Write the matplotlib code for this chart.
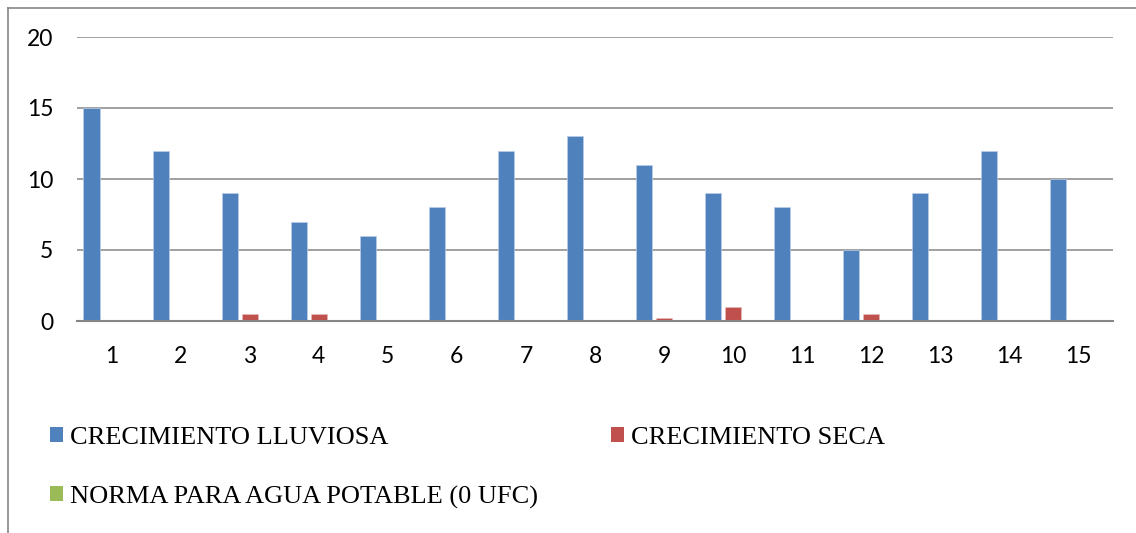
import matplotlib
matplotlib.use("Agg")
import matplotlib.pyplot as plt
import numpy as np
from matplotlib.patches import Patch
from matplotlib.lines import Line2D

# Datos
muestras = list(range(1, 16))
lluviosa = [15, 12, 9, 7, 6, 8, 12, 13, 11, 9, 8, 5, 9, 12, 10]
seca = [0, 0, 0.5, 0.5, 0, 0, 0, 0, 0.2, 1, 0, 0.5, 0, 0, 0]
norma = [0] * 15
etiquetas = ["CRECIMIENTO LLUVIOSA", "CRECIMIENTO SECA", "NORMA PARA AGUA POTABLE (0 UFC)"]
colores = ["#4F81BD", "#C0504D", "#9BBB59"]
gris = "#868686"

fig = plt.figure(figsize=(11.36, 5.33), dpi=100)
ax = fig.add_axes([77 / 1136, 212 / 533, 1036 / 1136, 284 / 533])

x = np.array(muestras)
ancho = 0.232
desp = 0.29
ax.bar(x - desp, lluviosa, ancho, color=colores[0], edgecolor="#B9CDE5", linewidth=0.5)
ax.bar(x, seca, ancho, color=colores[1], edgecolor="#E6B9B8", linewidth=0.5)
ax.bar(x + desp, norma, ancho, color=colores[2])

ax.set_xlim(0.5, 15.5)
ax.set_ylim(0, 20)
ax.set_yticks([0, 5, 10, 15, 20])
ax.set_xticks(muestras)
ax.yaxis.grid(True, color=gris, linewidth=1.1)
ax.set_axisbelow(True)
for s in ["top", "right", "left"]:
    ax.spines[s].set_visible(False)
ax.spines["bottom"].set_color(gris)
ax.spines["bottom"].set_linewidth(1.5)
ax.spines["bottom"].set_zorder(3)
ax.tick_params(axis="both", length=0, labelsize=16.5)
ax.tick_params(axis="y", pad=17)
ax.tick_params(axis="x", pad=18)
for t in ax.get_xticklabels() + ax.get_yticklabels():
    t.set_fontfamily("Lato")

# Leyenda en dos bloques, como en el original
fuente_ley = {"family": "Liberation Serif", "size": 19}
h = [Patch(facecolor=c) for c in colores]
opts = dict(loc="upper left", frameon=False, prop=fuente_ley, borderpad=0,
            borderaxespad=0, handlelength=0.51, handleheight=0.51,
            handletextpad=0.25, labelspacing=1.38)
fig.legend([h[0], h[2]], [etiquetas[0], etiquetas[2]],
           bbox_to_anchor=(50 / 1136, 1 - 427 / 533), **opts)
fig.legend([h[1]], [etiquetas[1]],
           bbox_to_anchor=(611 / 1136, 1 - 427 / 533), **opts)

# Borde del área del gráfico
fig.add_artist(Line2D([7.5 / 1136, 7.5 / 1136], [0, 1 - 7.5 / 533], color=gris, linewidth=1.2))
fig.add_artist(Line2D([7.5 / 1136, 1], [1 - 7.5 / 533, 1 - 7.5 / 533], color=gris, linewidth=1.2))

fig.savefig("out.png", dpi=100)
